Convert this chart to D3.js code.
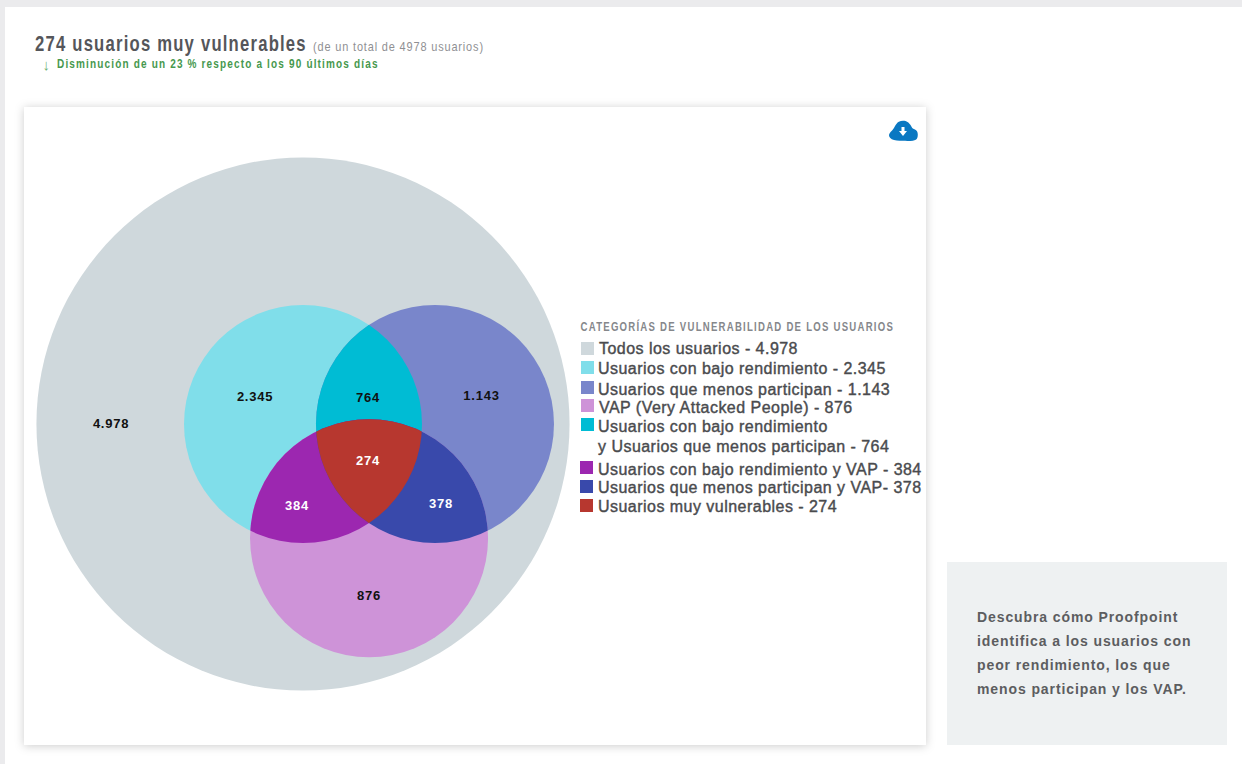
<!DOCTYPE html>
<html lang="es">
<head>
<meta charset="utf-8">
<title>Usuarios muy vulnerables</title>
<script src="https://cdn.jsdelivr.net/npm/d3@7/dist/d3.min.js"></script>
<style>
  html, body { margin: 0; padding: 0; background: #fff; }
  svg { display: block; }
  text { font-family: "Liberation Sans", Arial, sans-serif; }
</style>
</head>
<body>
<svg id="chart" width="1242" height="764"></svg>
<script>
// Audience counts for each set and overlap
const setKeys = ["all", "low", "least", "vap", "lowLeast", "lowVap", "leastVap", "core"];
const setCounts = [4978, 2345, 1143, 876, 764, 384, 378, 274];
const setColors = ["#cfd8dc", "#80deea", "#7986cb", "#ce93d8", "#00bcd4", "#9c27b0", "#3949ab", "#b7372f"];
const legendLabels = [
  ["Todos los usuarios - "],
  ["Usuarios con bajo rendimiento - "],
  ["Usuarios que menos participan - "],
  ["VAP (Very Attacked People) - "],
  ["Usuarios con bajo rendimiento", "y Usuarios que menos participan - "],
  ["Usuarios con bajo rendimiento y VAP - "],
  ["Usuarios que menos participan y VAP- "],
  ["Usuarios muy vulnerables - "]
];
const sidebarLines = [
  "Descubra cómo Proofpoint",
  "identifica a los usuarios con",
  "peor rendimiento, los que",
  "menos participan y los VAP."
];

const es = d3.formatLocale({ decimal: ",", thousands: ".", grouping: [3], currency: ["", " €"] });
const fmt = es.format(",d");

const svg = d3.select("#chart");
const defs = svg.append("defs");

// Page furniture
svg.append("rect").attr("width", 1242).attr("height", 764).attr("fill", "#fff");
svg.append("rect").attr("width", 1242).attr("height", 7).attr("fill", "#ebebed");
svg.append("rect").attr("width", 5).attr("height", 764).attr("fill", "#ebebed");

const shadow = defs.append("filter").attr("id", "cardShadow")
  .attr("x", "-5%").attr("y", "-5%").attr("width", "110%").attr("height", "110%");
shadow.append("feDropShadow").attr("dx", 0).attr("dy", 1)
  .attr("stdDeviation", 5).attr("flood-color", "#000").attr("flood-opacity", 0.2);

svg.append("rect").attr("x", 24).attr("y", 107).attr("width", 902).attr("height", 638)
  .attr("fill", "#fff").attr("filter", "url(#cardShadow)");

// Condensed, tracked headings: the run is scaled horizontally to a set width
const squeezed = (px, py, size, weight, fill, width, spacing, str) => {
  const t = svg.append("text")
    .attr("font-size", size).attr("font-weight", weight).attr("fill", fill)
    .attr("letter-spacing", spacing)
    .text(str);
  const natural = t.node().getComputedTextLength();
  t.attr("transform", `translate(${px},${py}) scale(${width / natural},1)`);
  return t;
};

squeezed(35, 50.5, 22, 700, "#55565a", 272, 1.6, `${setCounts[7]} usuarios muy vulnerables`);
squeezed(313, 50.5, 13, 400, "#8f9093", 171, 1, `(de un total de ${setCounts[0]} usuarios)`);
svg.append("text").attr("x", 42.5).attr("y", 69.5)
  .attr("font-family", "DejaVu Sans")
  .attr("font-size", 15).attr("fill", "#6fb376").text("↓");
squeezed(57, 68, 13, 700, "#46984e", 322, 1.5, "Disminución de un 23 % respecto a los 90 últimos días");

// Venn plane: one unit is the radius of a small circle
const x = d3.scaleLinear().domain([0, 1]).range([303, 422]);
const y = d3.scaleLinear().domain([0, 1]).range([424, 543]);
const r = d3.scaleLinear().domain([0, 1]).range([0, 119]);

const outer = { cx: 0, cy: 0, r: 2.24 };
const circleA = { id: "low", cx: 0, cy: 0, r: 1 };
const circleB = { id: "least", cx: 1.109, cy: 0, r: 1 };
const circleC = { id: "vap", cx: 0.555, cy: 0.96, r: 1 };

const plotCircle = (sel, c) => sel
  .attr("cx", x(c.cx)).attr("cy", y(c.cy)).attr("r", r(c.r));

[circleA, circleB, circleC].forEach(c => {
  plotCircle(defs.append("clipPath").attr("id", "clip-" + c.id).append("circle"), c);
});

const g = svg.append("g");
const colorOf = k => setColors[setKeys.indexOf(k)];

plotCircle(g.append("circle"), outer).attr("fill", colorOf("all"));

// Each overlap is the later circle clipped by the earlier ones
const regions = [
  { key: "low", circle: circleA, clips: [] },
  { key: "least", circle: circleB, clips: [] },
  { key: "vap", circle: circleC, clips: [] },
  { key: "lowLeast", circle: circleB, clips: ["low"] },
  { key: "lowVap", circle: circleC, clips: ["low"] },
  { key: "leastVap", circle: circleC, clips: ["least"] },
  { key: "core", circle: circleC, clips: ["low", "least"] }
];
regions.forEach(reg => {
  let parent = g;
  reg.clips.forEach(id => {
    parent = parent.append("g").attr("clip-path", `url(#clip-${id})`);
  });
  plotCircle(parent.append("circle"), reg.circle).attr("fill", colorOf(reg.key));
});

// Count labels placed in venn units
const labelSpots = {
  all: [-1.613, 0, "#111"],
  low: [-0.403, -0.227, "#111"],
  least: [1.5, -0.235, "#111"],
  vap: [0.555, 1.445, "#111"],
  lowLeast: [0.546, -0.218, "#111"],
  lowVap: [-0.05, 0.689, "#fff"],
  leastVap: [1.16, 0.672, "#fff"],
  core: [0.546, 0.311, "#fff"]
};
g.selectAll("text.count").data(setKeys).join("text")
  .attr("class", "count")
  .attr("x", k => x(labelSpots[k][0]))
  .attr("y", k => y(labelSpots[k][1]))
  .attr("dy", "0.3em")
  .attr("text-anchor", "middle")
  .attr("font-size", 13).attr("font-weight", 700).attr("letter-spacing", 0.75)
  .attr("fill", k => labelSpots[k][2])
  .text(k => fmt(setCounts[setKeys.indexOf(k)]));

// Legend
squeezed(580.5, 331, 13, 700, "#85878b", 314, 1.7, "CATEGORÍAS DE VULNERABILIDAD DE LOS USUARIOS");

const legendRows = [
  { sy: 342, sx: 581, tx: 599, base: [354] },
  { sy: 361, sx: 581, tx: 598, base: [374] },
  { sy: 381, sx: 581, tx: 598, base: [394.5] },
  { sy: 399, sx: 581, tx: 599, base: [413] },
  { sy: 418, sx: 581, tx: 598, base: [432, 452] },
  { sy: 461, sx: 580, tx: 598, base: [474.5] },
  { sy: 480, sx: 580, tx: 598, base: [492.5] },
  { sy: 499, sx: 580, tx: 598, base: [512] }
];
const legend = svg.append("g").selectAll("g").data(setKeys).join("g");
legend.append("rect")
  .attr("x", (d, i) => legendRows[i].sx).attr("y", (d, i) => legendRows[i].sy)
  .attr("width", 13).attr("height", 13)
  .attr("fill", (d, i) => setColors[i]);
legend.each(function (d, i) {
  const lines = legendLabels[i];
  d3.select(this).selectAll("text").data(lines).join("text")
    .attr("x", legendRows[i].tx)
    .attr("y", (l, j) => legendRows[i].base[j])
    .attr("font-size", 16).attr("letter-spacing", 0.47)
    .attr("fill", "#4a4b4e").attr("stroke", "#4a4b4e").attr("stroke-width", 0.4)
    .text((l, j) => j === lines.length - 1 ? l + fmt(setCounts[i]) : l);
});

// Download cloud
const icon = svg.append("g").attr("transform", "translate(903,131)");
icon.append("path").attr("fill", "#0a78c2")
  .attr("d", d3.line().curve(d3.curveBasisClosed)([
    [-13, 9], [-15, 3], [-10, -1], [-8, -5], [-5, -10], [3, -11], [8, -6], [9, -2], [15, -1], [15, 8], [11, 10], [0, 10]
  ]));
icon.append("path").attr("fill", "#fff")
  .attr("d", d3.line()([[-1.5, -4], [1.5, -4], [1.5, 0], [4, 0], [0, 5], [-4, 0], [-1.5, 0]]) + "Z");

// Sidebar note
svg.append("rect").attr("x", 947).attr("y", 562).attr("width", 280).attr("height", 183).attr("fill", "#eef1f2");
svg.append("g").selectAll("text").data(sidebarLines).join("text")
  .attr("x", 977)
  .attr("y", (d, i) => 621.5 + i * 24.3)
  .attr("font-size", 14).attr("font-weight", 700).attr("letter-spacing", 0.9)
  .attr("fill", "#5c5d60")
  .text(d => d);
</script>
</body>
</html>
